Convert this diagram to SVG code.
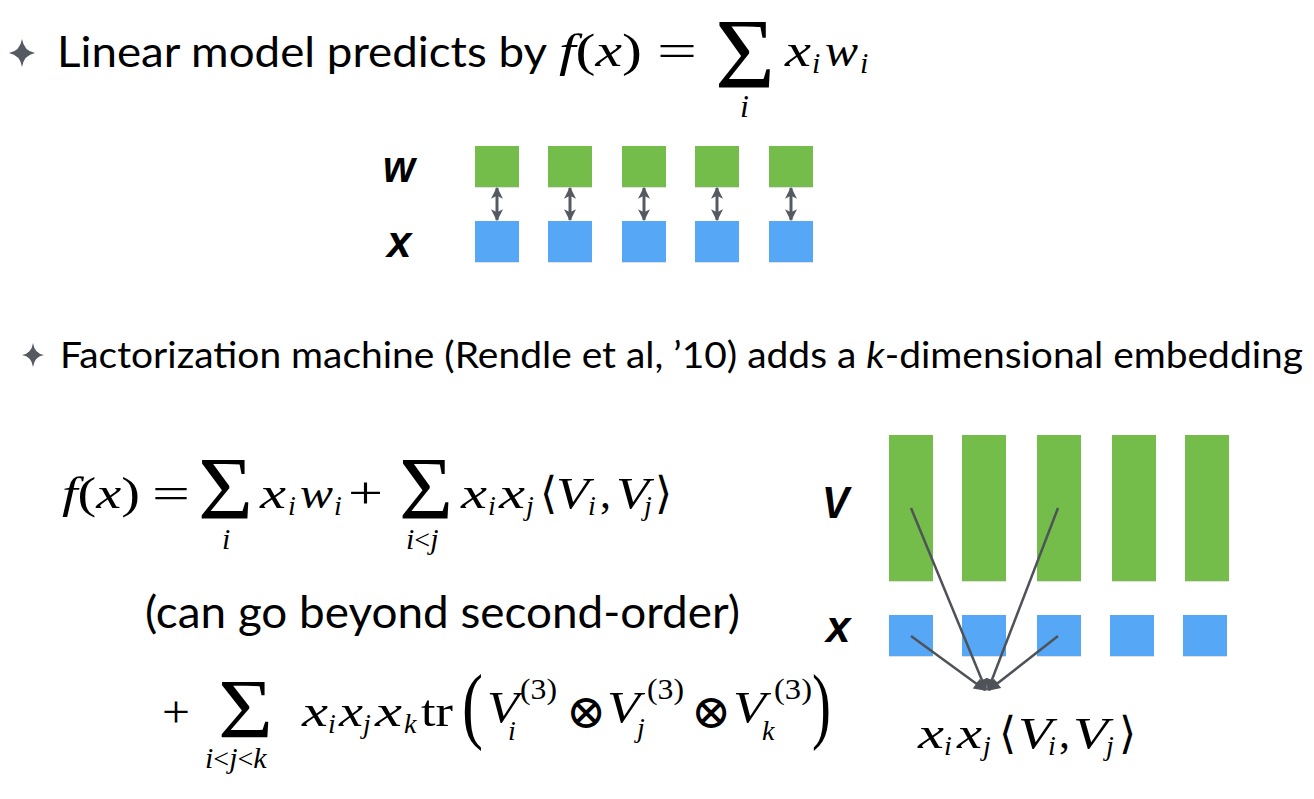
<svg xmlns="http://www.w3.org/2000/svg" width="1314" height="799" viewBox="0 0 1314 799">
<style>
.t{font-family:Lato,"Open Sans","Liberation Sans",sans-serif;fill:#000}
.m{font-family:"Liberation Serif","DejaVu Serif",serif;fill:#000}
.op{font-family:"DejaVu Sans","DejaVu Serif",sans-serif;font-weight:200;fill:#000}
.i{font-style:italic}
.lbl{font-family:"Liberation Sans",Arial,sans-serif;font-weight:bold;font-style:italic;font-size:44px;fill:#000}
.g{fill:#75BD4A}
.b{fill:#56A8F6}
.sh{fill:#000;opacity:0.12}
.bul{fill:#555A62}
.arr{stroke:#555A62;stroke-width:3;fill:none}
.fan{stroke:#4F5359;stroke-width:2.5;fill:none}
</style>
<defs>
<marker id="ah" viewBox="0 0 10 10" refX="9" refY="5" markerWidth="12" markerHeight="12" markerUnits="userSpaceOnUse" orient="auto-start-reverse">
<path d="M0,0 L10,5 L0,10 L2.5,5 Z" fill="#555A62"/>
</marker>
<marker id="ah2" viewBox="0 0 10 10" refX="9" refY="5" markerWidth="14" markerHeight="12" markerUnits="userSpaceOnUse" orient="auto">
<path d="M0,0 L10,5 L0,10 Z" fill="#4F5359"/>
</marker>
</defs>

<g id="bullet1"><path class="bul" d="M22,39 Q24,51 35,53 Q24,55 22,67 Q20,55 9,53 Q20,51 22,39 Z"/></g>
<g id="title1">
<text class="t" x="57" y="67" font-size="43" textLength="490" lengthAdjust="spacingAndGlyphs">Linear model predicts by</text>
<text class="m" x="559" y="66" font-size="46" textLength="83" lengthAdjust="spacingAndGlyphs"><tspan class="i">f</tspan>(<tspan class="i">x</tspan>)</text>
<text class="m" x="657" y="66" font-size="46" textLength="40" lengthAdjust="spacingAndGlyphs">=</text>
<text class="m" x="715" y="87" font-size="100" textLength="60" lengthAdjust="spacingAndGlyphs">Σ</text>
<text class="m i" x="740" y="117" font-size="32">i</text>
<text class="m i" x="785" y="66" font-size="46" textLength="26" lengthAdjust="spacingAndGlyphs">x</text>
<text class="m i" x="812" y="73" font-size="30">i</text>
<text class="m i" x="825" y="66" font-size="46" textLength="33" lengthAdjust="spacingAndGlyphs">w</text>
<text class="m i" x="860" y="73" font-size="30">i</text>
</g>

<g id="w-label"><text class="lbl" x="383" y="182" textLength="32" lengthAdjust="spacingAndGlyphs">w</text></g>
<g id="x-label"><text class="lbl" x="387" y="257">x</text></g>

<g id="w1"><rect class="sh" x="475" y="147" width="44" height="41"/><rect class="g" x="475" y="146" width="44" height="41"/></g>
<g id="w2"><rect class="sh" x="548" y="147" width="44" height="41"/><rect class="g" x="548" y="146" width="44" height="41"/></g>
<g id="w3"><rect class="sh" x="622" y="147" width="44" height="41"/><rect class="g" x="622" y="146" width="44" height="41"/></g>
<g id="w4"><rect class="sh" x="695" y="147" width="44" height="41"/><rect class="g" x="695" y="146" width="44" height="41"/></g>
<g id="w5"><rect class="sh" x="769" y="147" width="44" height="41"/><rect class="g" x="769" y="146" width="44" height="41"/></g>

<g id="x1"><rect class="sh" x="475" y="222" width="44" height="41"/><rect class="b" x="475" y="221" width="44" height="41"/></g>
<g id="x2"><rect class="sh" x="548" y="222" width="44" height="41"/><rect class="b" x="548" y="221" width="44" height="41"/></g>
<g id="x3"><rect class="sh" x="622" y="222" width="44" height="41"/><rect class="b" x="622" y="221" width="44" height="41"/></g>
<g id="x4"><rect class="sh" x="695" y="222" width="44" height="41"/><rect class="b" x="695" y="221" width="44" height="41"/></g>
<g id="x5"><rect class="sh" x="769" y="222" width="44" height="41"/><rect class="b" x="769" y="221" width="44" height="41"/></g>

<g id="connectors-top">
<line class="arr" x1="497" y1="188" x2="497" y2="220" marker-start="url(#ah)" marker-end="url(#ah)"/>
<line class="arr" x1="570" y1="188" x2="570" y2="220" marker-start="url(#ah)" marker-end="url(#ah)"/>
<line class="arr" x1="644" y1="188" x2="644" y2="220" marker-start="url(#ah)" marker-end="url(#ah)"/>
<line class="arr" x1="717" y1="188" x2="717" y2="220" marker-start="url(#ah)" marker-end="url(#ah)"/>
<line class="arr" x1="791" y1="188" x2="791" y2="220" marker-start="url(#ah)" marker-end="url(#ah)"/>
</g>

<g id="bullet2"><path class="bul" d="M33,343 Q34.5,353.5 44,355 Q34.5,356.5 33,367 Q31.5,356.5 22,355 Q31.5,353.5 33,343 Z"/></g>
<g id="title2">
<text class="t" x="60" y="368" font-size="36" textLength="1243" lengthAdjust="spacingAndGlyphs">Factorization machine (Rendle et al, ’10) adds a <tspan class="i">k</tspan>-dimensional embedding</text>
</g>

<g id="formula2">
<text class="m" x="62" y="508" font-size="44" textLength="78" lengthAdjust="spacingAndGlyphs"><tspan class="i">f</tspan>(<tspan class="i">x</tspan>)</text>
<text class="m" x="152" y="508" font-size="44" textLength="38" lengthAdjust="spacingAndGlyphs">=</text>
<text class="m" x="198" y="518" font-size="88" textLength="55" lengthAdjust="spacingAndGlyphs">Σ</text>
<text class="m i" x="222" y="549" font-size="30">i</text>
<text class="m i" x="260" y="508" font-size="44" textLength="26" lengthAdjust="spacingAndGlyphs">x</text>
<text class="m i" x="288" y="515" font-size="28">i</text>
<text class="m i" x="300" y="508" font-size="44" textLength="33" lengthAdjust="spacingAndGlyphs">w</text>
<text class="m i" x="334" y="515" font-size="28">i</text>
<text class="m" x="348" y="508" font-size="44" textLength="35" lengthAdjust="spacingAndGlyphs">+</text>
<text class="m" x="399" y="518" font-size="88" textLength="54" lengthAdjust="spacingAndGlyphs">Σ</text>
<text class="m" x="406" y="549" font-size="30"><tspan class="i">i</tspan><tspan font-size="28">&lt;</tspan><tspan class="i">j</tspan></text>
<text class="m i" x="461" y="508" font-size="44" textLength="26" lengthAdjust="spacingAndGlyphs">x</text>
<text class="m i" x="488" y="515" font-size="28">i</text>
<text class="m i" x="499" y="508" font-size="44" textLength="26" lengthAdjust="spacingAndGlyphs">x</text>
<text class="m i" x="526" y="515" font-size="28">j</text>
<text class="m" x="540" y="508" font-size="44">⟨</text>
<text class="m i" x="556" y="508" font-size="44" textLength="33" lengthAdjust="spacingAndGlyphs">V</text>
<text class="m i" x="588" y="515" font-size="28">i</text>
<text class="m" x="600" y="508" font-size="44">,</text>
<text class="m i" x="616" y="508" font-size="44" textLength="33" lengthAdjust="spacingAndGlyphs">V</text>
<text class="m i" x="644" y="515" font-size="28">j</text>
<text class="m" x="655" y="508" font-size="44">⟩</text>
</g>

<g id="note"><text class="t" x="145" y="628" font-size="44" textLength="595" lengthAdjust="spacingAndGlyphs">(can go beyond second-order)</text></g>

<g id="formula3">
<text class="m" x="162" y="727" font-size="44" textLength="28" lengthAdjust="spacingAndGlyphs">+</text>
<text class="m" x="218" y="738" font-size="84" textLength="55" lengthAdjust="spacingAndGlyphs">Σ</text>
<text class="m" x="205" y="768" font-size="30"><tspan class="i">i</tspan><tspan font-size="28">&lt;</tspan><tspan class="i">j</tspan><tspan font-size="28">&lt;</tspan><tspan class="i">k</tspan></text>
<text class="m i" x="302" y="726" font-size="44" textLength="26" lengthAdjust="spacingAndGlyphs">x</text>
<text class="m i" x="328" y="733" font-size="28">i</text>
<text class="m i" x="339" y="726" font-size="44" textLength="24" lengthAdjust="spacingAndGlyphs">x</text>
<text class="m i" x="363" y="733" font-size="28">j</text>
<text class="m i" x="375" y="726" font-size="44" textLength="27" lengthAdjust="spacingAndGlyphs">x</text>
<text class="m i" x="404" y="733" font-size="28">k</text>
<text class="m" x="421" y="726" font-size="44" textLength="32" lengthAdjust="spacingAndGlyphs">tr</text>
<text class="m" x="462" y="733" font-size="84" textLength="21" lengthAdjust="spacingAndGlyphs">(</text>
<text class="m i" x="487" y="722" font-size="44" textLength="32" lengthAdjust="spacingAndGlyphs">V</text>
<text class="m i" x="508" y="740" font-size="28">i</text>
<text class="m" x="520" y="699" font-size="30" textLength="37" lengthAdjust="spacingAndGlyphs">(3)</text>
<text class="op" x="586" y="728" font-size="48" text-anchor="middle">⊗</text>
<text class="m i" x="607" y="722" font-size="44" textLength="33" lengthAdjust="spacingAndGlyphs">V</text>
<text class="m i" x="637" y="737" font-size="28">j</text>
<text class="m" x="647" y="699" font-size="30" textLength="37" lengthAdjust="spacingAndGlyphs">(3)</text>
<text class="op" x="711" y="728" font-size="48" text-anchor="middle">⊗</text>
<text class="m i" x="733" y="722" font-size="44" textLength="33" lengthAdjust="spacingAndGlyphs">V</text>
<text class="m i" x="762" y="740" font-size="28">k</text>
<text class="m" x="774" y="699" font-size="30" textLength="38" lengthAdjust="spacingAndGlyphs">(3)</text>
<text class="m" x="812" y="733" font-size="84" textLength="19" lengthAdjust="spacingAndGlyphs">)</text>
</g>

<g id="V-label"><text class="lbl" x="822" y="518" textLength="27" lengthAdjust="spacingAndGlyphs">V</text></g>
<g id="x-label2"><text class="lbl" x="826" y="642">x</text></g>

<g id="V1"><rect class="sh" x="889" y="436" width="44" height="146"/><rect class="g" x="889" y="435" width="44" height="146"/></g>
<g id="V2"><rect class="sh" x="962" y="436" width="44" height="146"/><rect class="g" x="962" y="435" width="44" height="146"/></g>
<g id="V3"><rect class="sh" x="1037" y="436" width="44" height="146"/><rect class="g" x="1037" y="435" width="44" height="146"/></g>
<g id="V4"><rect class="sh" x="1112" y="436" width="44" height="146"/><rect class="g" x="1112" y="435" width="44" height="146"/></g>
<g id="V5"><rect class="sh" x="1185" y="436" width="44" height="146"/><rect class="g" x="1185" y="435" width="44" height="146"/></g>

<g id="xs1"><rect class="sh" x="889" y="616" width="44" height="41"/><rect class="b" x="889" y="615" width="44" height="41"/></g>
<g id="xs2"><rect class="sh" x="962" y="616" width="44" height="41"/><rect class="b" x="962" y="615" width="44" height="41"/></g>
<g id="xs3"><rect class="sh" x="1037" y="616" width="44" height="41"/><rect class="b" x="1037" y="615" width="44" height="41"/></g>
<g id="xs4"><rect class="sh" x="1110" y="616" width="44" height="41"/><rect class="b" x="1110" y="615" width="44" height="41"/></g>
<g id="xs5"><rect class="sh" x="1183" y="616" width="44" height="41"/><rect class="b" x="1183" y="615" width="44" height="41"/></g>

<g id="connectors-fan">
<line class="fan" x1="911" y1="508" x2="986" y2="690" marker-end="url(#ah2)"/>
<line class="fan" x1="1058" y1="508" x2="988" y2="690" marker-end="url(#ah2)"/>
<line class="fan" x1="911" y1="636" x2="985" y2="690" marker-end="url(#ah2)"/>
<line class="fan" x1="1058" y1="636" x2="989" y2="690" marker-end="url(#ah2)"/>
</g>

<g id="result">
<text class="m i" x="918" y="748" font-size="44" textLength="26" lengthAdjust="spacingAndGlyphs">x</text>
<text class="m i" x="944" y="755" font-size="28">i</text>
<text class="m i" x="957" y="748" font-size="44" textLength="25" lengthAdjust="spacingAndGlyphs">x</text>
<text class="m i" x="983" y="755" font-size="28">j</text>
<text class="m" x="999" y="748" font-size="44">⟨</text>
<text class="m i" x="1018" y="748" font-size="44" textLength="34" lengthAdjust="spacingAndGlyphs">V</text>
<text class="m i" x="1048" y="755" font-size="28">i</text>
<text class="m" x="1059" y="748" font-size="44">,</text>
<text class="m i" x="1073" y="748" font-size="44" textLength="35" lengthAdjust="spacingAndGlyphs">V</text>
<text class="m i" x="1106" y="755" font-size="28">j</text>
<text class="m" x="1119" y="748" font-size="44">⟩</text>
</g>
</svg>
